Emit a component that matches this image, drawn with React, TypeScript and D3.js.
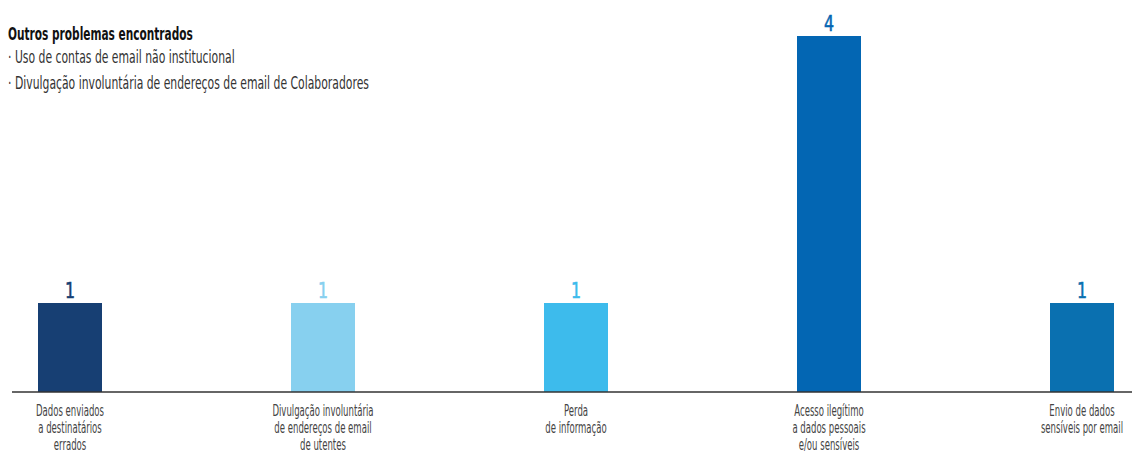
import React from "react";
import * as d3 from "d3";

const categories: string[][] = [
  ["Dados enviados", "a destinatários", "errados"],
  ["Divulgação involuntária", "de endereços de email", "de utentes"],
  ["Perda", "de informação"],
  ["Acesso ilegítimo", "a dados pessoais", "e/ou sensíveis"],
  ["Envio de dados", "sensíveis por email"],
];
const values: number[] = [1, 1, 1, 4, 1];
const colors: string[] = ["#173f73", "#87d0ef", "#3dbbec", "#0366b3", "#0a70b0"];
const title = "Outros problemas encontrados";
const notes: string[] = [
  "· Uso de contas de email não institucional",
  "· Divulgação involuntária de endereços de email de Colaboradores",
];

const W = 1132;
const H = 455;
const FONT = "'DejaVu Sans', sans-serif";

export default function App() {
  const keys = categories.map((_, i) => String(i));
  const x = d3.scalePoint<string>().domain(keys).range([70, 1082]);
  const y = d3.scaleLinear().domain([0, 4]).range([392, 36]);
  const bw = 64;
  return (
    <svg width={W} height={H} style={{ position: "absolute", left: 0, top: 0, background: "#fff" }} fontFamily={FONT}>
      <text transform="translate(8,40) scale(0.588,1)" fontSize={18} fontWeight="bold" fill="#111">{title}</text>
      {notes.map((n, i) => (
        <text key={i} transform={`translate(8,${63 + i * 26}) scale(0.637,1)`} fontSize={17} fill="#333">{n}</text>
      ))}
      {values.map((v, i) => {
        const cx = x(String(i)) as number;
        return (
          <g key={i}>
            <rect x={cx - bw / 2} y={y(v)} width={bw} height={y(0) - y(v)} fill={colors[i]} />
            <text transform={`translate(${cx},${y(v) - 5}) scale(0.72,1)`} textAnchor="middle" fontSize={22}
              fill={colors[i]} stroke={colors[i]} strokeWidth={0.6}>{v}</text>
            <text transform={`translate(${cx},416) scale(0.57,1)`} textAnchor="middle" fontSize={15} fill="#444">
              {categories[i].map((l, j) => (
                <tspan key={j} x={0} y={j * 17}>{l}</tspan>
              ))}
            </text>
          </g>
        );
      })}
      <line x1={12} x2={W} y1={y(0)} y2={y(0)} stroke="#333" strokeWidth={1.5} />
    </svg>
  );
}
